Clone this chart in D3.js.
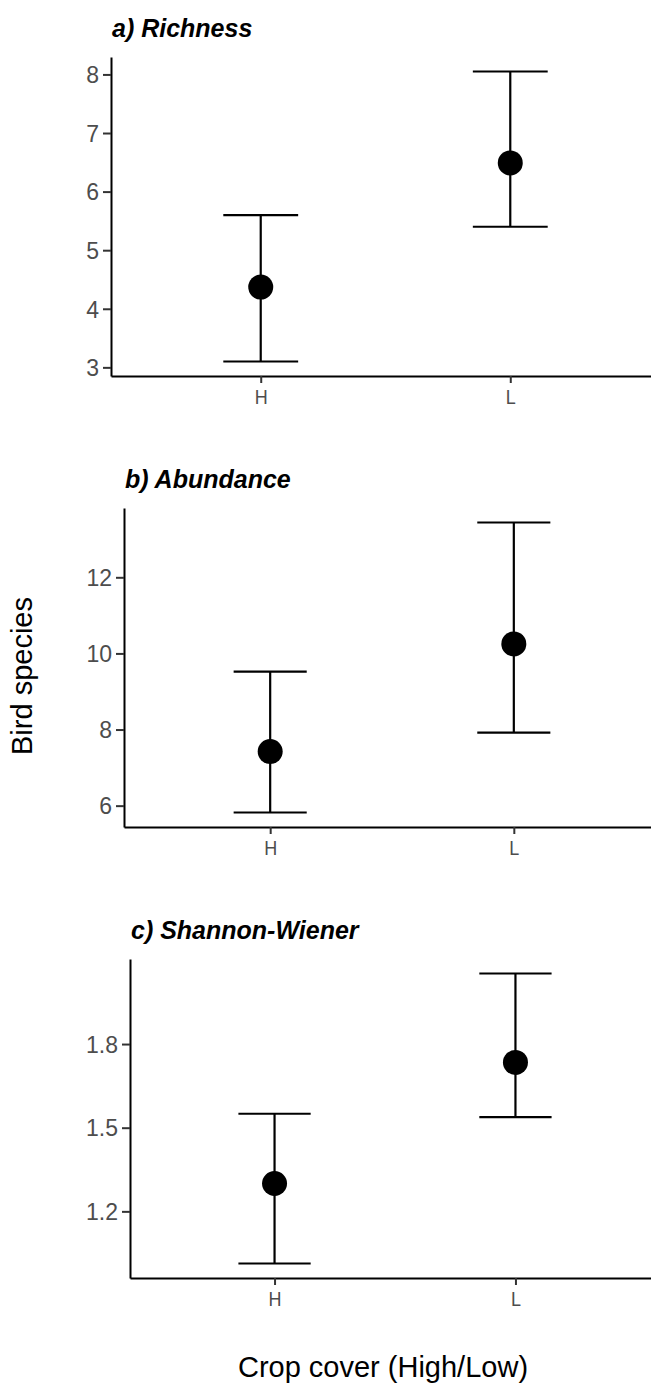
<!DOCTYPE html>
<html>
<head>
<meta charset="utf-8">
<script src="https://cdn.jsdelivr.net/npm/d3@7"></script>
<style>
  body { margin: 0; background: #fff; }
  svg { display: block; font-family: "Liberation Sans", Arial, sans-serif; }
  .axis path, .axis line { stroke: #000; }
  .axis .tick line { stroke: #333; stroke-width: 2; }
  .axis .tick text { fill: #4d4d4d; font-family: "Liberation Sans", Arial, sans-serif; }
  .yaxis .tick text { font-size: 23px; }
  .xaxis .tick text { font-size: 18px; }
</style>
</head>
<body>
<svg width="651" height="1385"></svg>
<script>
// categories and estimates (mean with lower / upper limits)
var categories = ["H", "L"];

var richnessMean = [4.37, 6.49];
var richnessLow = [3.1, 5.4];
var richnessHigh = [5.6, 8.05];
var richnessTicks = [3, 4, 5, 6, 7, 8];

var abundanceMean = [7.42, 10.25];
var abundanceLow = [5.82, 7.92];
var abundanceHigh = [9.52, 13.44];
var abundanceTicks = [6, 8, 10, 12];

var shannonMean = [1.30, 1.734];
var shannonLow = [1.013, 1.538];
var shannonHigh = [1.55, 2.053];
var shannonTicks = [1.2, 1.5, 1.8];

var panels = [
    {title: "a) Richness", mean: richnessMean, low: richnessLow, high: richnessHigh, ticks: richnessTicks, fmt: d3.format("d"), left: 111, top: 57},
    {title: "b) Abundance", mean: abundanceMean, low: abundanceLow, high: abundanceHigh, ticks: abundanceTicks, fmt: d3.format("d"), left: 124, top: 508},
    {title: "c) Shannon-Wiener", mean: shannonMean, low: shannonLow, high: shannonHigh, ticks: shannonTicks, fmt: d3.format(".1f"), left: 130, top: 959}
];

var svg = d3.select("svg");
var plotRight = 660,
    plotHeight = 319;

panels.forEach(function (p) {
    // continuous y with ggplot-like 5% expansion
    var lo = d3.min(p.low), hi = d3.max(p.high);
    var pad = (hi - lo) * 0.05;
    var y = d3.scaleLinear()
        .domain([lo - pad, hi + pad])
        .range([p.top + plotHeight, p.top]);

    // discrete x with 0.6 expansion each side
    var x = d3.scalePoint()
        .domain(categories)
        .range([p.left, plotRight])
        .padding(0.6);
    var capHalf = x.step() * 0.15;

    var data = categories.map(function (c, i) {
        return {cat: c, mean: p.mean[i], low: p.low[i], high: p.high[i]};
    });

    var g = svg.append("g");

    // axes
    var yAxis = g.append("g")
        .attr("class", "axis yaxis")
        .attr("transform", "translate(" + p.left + ",0)")
        .call(d3.axisLeft(y).tickValues(p.ticks).tickFormat(p.fmt).tickSize(8).tickPadding(4).tickSizeOuter(0));
    yAxis.select(".domain").attr("stroke-width", 2);
    yAxis.selectAll(".tick text").attr("dy", "0.36em");

    var xAxis = g.append("g")
        .attr("class", "axis xaxis")
        .attr("transform", "translate(0," + (p.top + plotHeight) + ")")
        .call(d3.axisBottom(x).tickSize(7).tickPadding(3).tickSizeOuter(0));
    xAxis.select(".domain").attr("stroke-width", 2);
    // the reference H / L glyphs are a little taller than wide
    xAxis.selectAll(".tick text").attr("dy", "0.8em").attr("transform", "scale(1,1.15)");

    // error bars
    var bars = g.selectAll(".err").data(data).enter().append("g").attr("class", "err")
        .attr("stroke", "#000").attr("stroke-width", 2.2);
    bars.append("line")
        .attr("x1", function (d) { return x(d.cat); })
        .attr("x2", function (d) { return x(d.cat); })
        .attr("y1", function (d) { return y(d.low); })
        .attr("y2", function (d) { return y(d.high); });
    bars.append("line")
        .attr("x1", function (d) { return x(d.cat) - capHalf; })
        .attr("x2", function (d) { return x(d.cat) + capHalf; })
        .attr("y1", function (d) { return y(d.high); })
        .attr("y2", function (d) { return y(d.high); });
    bars.append("line")
        .attr("x1", function (d) { return x(d.cat) - capHalf; })
        .attr("x2", function (d) { return x(d.cat) + capHalf; })
        .attr("y1", function (d) { return y(d.low); })
        .attr("y2", function (d) { return y(d.low); });

    // points
    g.selectAll(".pt").data(data).enter().append("circle")
        .attr("class", "pt")
        .attr("cx", function (d) { return x(d.cat); })
        .attr("cy", function (d) { return y(d.mean); })
        .attr("r", 12.5)
        .attr("fill", "#000");

    // panel title
    g.append("text")
        .attr("x", p.left + 1)
        .attr("y", p.top - 20)
        .attr("font-size", "25px")
        .attr("font-weight", "bold")
        .attr("font-style", "italic")
        .attr("fill", "#000")
        .text(p.title);
});

// shared axis titles
svg.append("text")
    .attr("transform", "translate(32,676) rotate(-90)")
    .attr("text-anchor", "middle")
    .attr("font-size", "29px")
    .attr("fill", "#000")
    .text("Bird species");

svg.append("text")
    .attr("x", 383)
    .attr("y", 1377)
    .attr("text-anchor", "middle")
    .attr("font-size", "29px")
    .attr("fill", "#000")
    .text("Crop cover (High/Low)");
</script>
</body>
</html>
